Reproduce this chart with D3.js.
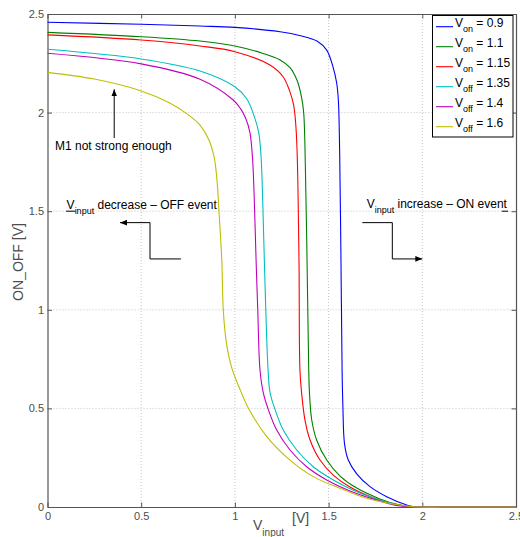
<!DOCTYPE html>
<html>
<head>
<meta charset="utf-8">
<script src="https://cdn.jsdelivr.net/npm/d3@7/dist/d3.min.js"></script>
<style>
  html, body { margin: 0; padding: 0; background: #fff; }
  svg { display: block; font-family: "Liberation Sans", Arial, sans-serif; }
</style>
</head>
<body>
<svg id="chart" width="520" height="537"></svg>
<script>
// ---------------- data ----------------
const xTicks = [0, 0.5, 1, 1.5, 2, 2.5];
const yTicks = [0, 0.5, 1, 1.5, 2, 2.5];
const xTickLabels = ["0", "0.5", "1", "1.5", "2", "2.5"];
const yTickLabels = ["0", "0.5", "1", "1.5", "2", "2.5"];

const seriesNames = ["on", "on", "on", "off", "off", "off"];
const seriesValues = ["0.9", "1.1", "1.15", "1.35", "1.4", "1.6"];
const seriesColors = ["#0000ff", "#008000", "#ff0000", "#00bfbf", "#bf00bf", "#bfbf00"];

const vOn09 = [[0,2.458],[0.5,2.448],[0.814,2.439],[1.0,2.432],[1.241,2.41],[1.35,2.39],[1.44,2.362],[1.49,2.317],[1.523,2.233],[1.543,2.15],[1.552,2.064],[1.559,1.8],[1.566,1.253],[1.572,0.695],[1.576,0.52],[1.585,0.32],[1.605,0.238],[1.65,0.168],[1.721,0.103],[1.81,0.052],[1.917,0.01],[1.95,0.002],[2.2,0],[2.5,0]];
const vOn11 = [[0,2.407],[0.5,2.385],[0.814,2.363],[1.0,2.338],[1.15,2.3],[1.241,2.267],[1.294,2.228],[1.331,2.165],[1.355,2.081],[1.367,2.0],[1.376,1.729],[1.385,1.253],[1.394,0.695],[1.398,0.578],[1.41,0.441],[1.436,0.34],[1.49,0.238],[1.561,0.157],[1.65,0.096],[1.774,0.041],[1.87,0.012],[1.95,0.002],[2.2,0],[2.5,0]];
const vOn115 = [[0,2.394],[0.5,2.368],[0.814,2.338],[1.0,2.309],[1.187,2.241],[1.257,2.182],[1.292,2.11],[1.313,2.04],[1.324,1.95],[1.332,1.8],[1.342,1.253],[1.347,0.695],[1.356,0.578],[1.374,0.441],[1.401,0.34],[1.454,0.238],[1.525,0.162],[1.614,0.101],[1.739,0.046],[1.845,0.015],[1.95,0.002],[2.2,0],[2.5,0]];
const vOff135 = [[0,2.321],[0.5,2.272],[0.814,2.211],[1.0,2.131],[1.063,2.07],[1.1,1.99],[1.127,1.9],[1.14,1.77],[1.147,1.6],[1.157,1.253],[1.177,0.695],[1.188,0.578],[1.214,0.495],[1.258,0.39],[1.33,0.289],[1.418,0.204],[1.525,0.137],[1.641,0.081],[1.774,0.035],[1.87,0.01],[1.95,0.002],[2.2,0],[2.5,0]];
const vOff14 = [[0,2.301],[0.5,2.247],[0.814,2.169],[0.991,2.064],[1.03,2.02],[1.058,1.97],[1.08,1.9],[1.094,1.77],[1.102,1.6],[1.113,1.253],[1.122,0.999],[1.134,0.695],[1.152,0.577],[1.178,0.495],[1.223,0.39],[1.294,0.289],[1.383,0.204],[1.49,0.137],[1.614,0.081],[1.757,0.035],[1.881,0.005],[1.95,0.001],[2.2,0],[2.5,0]];
const vOff16 = [[0,2.204],[0.25,2.17],[0.5,2.11],[0.65,2.05],[0.75,1.99],[0.814,1.937],[0.862,1.86],[0.89,1.77],[0.905,1.65],[0.915,1.5],[0.93,1.253],[0.938,0.999],[0.955,0.83],[0.985,0.7],[1.03,0.59],[1.072,0.501],[1.17,0.357],[1.294,0.238],[1.418,0.154],[1.561,0.095],[1.703,0.044],[1.844,0.015],[1.917,0.005],[1.95,0.001],[2.2,0],[2.5,0]];
const allSeries = [vOn09, vOn11, vOn115, vOff135, vOff14, vOff16];

// ---------------- layout ----------------
const svg = d3.select("#chart");
const L = 47.5, R = 516, T = 14, B = 507;
const x = d3.scaleLinear().domain([0, 2.5]).range([L, R]);
const y = d3.scaleLinear().domain([0, 2.5]).range([B, T]);
const axisColor = "#555";

// grid
const grid = svg.append("g");
grid.selectAll(".gx").data(xTicks.slice(1, -1)).join("line")
  .attr("x1", d => x(d)).attr("x2", d => x(d)).attr("y1", T).attr("y2", B)
  .attr("stroke", "#c4c4c4").attr("stroke-width", 1).attr("stroke-dasharray", "1,2");
grid.selectAll(".gy").data(yTicks.slice(1, -1)).join("line")
  .attr("x1", L).attr("x2", R).attr("y1", d => y(d)).attr("y2", d => y(d))
  .attr("stroke", "#c4c4c4").attr("stroke-width", 1).attr("stroke-dasharray", "1,2");

// axes
function styleAxis(g) {
  g.select(".domain").attr("stroke", axisColor).attr("stroke-width", 1.2);
  g.selectAll(".tick line").attr("stroke", axisColor);
  g.selectAll(".tick text").attr("fill", "#4d4d4d").attr("font-size", 11)
    .attr("font-family", "Liberation Sans, Arial, sans-serif");
}
svg.append("g").attr("transform", `translate(0,${B})`)
  .call(d3.axisBottom(x).tickValues(xTicks).tickFormat((d, i) => xTickLabels[i])
    .tickSizeInner(-4.5).tickSizeOuter(0).tickPadding(5))
  .call(styleAxis);
svg.append("g").attr("transform", `translate(${L},0)`)
  .call(d3.axisLeft(y).tickValues(yTicks).tickFormat((d, i) => yTickLabels[i])
    .tickSizeInner(-4.5).tickSizeOuter(0).tickPadding(3.5))
  .call(styleAxis);
svg.append("g").attr("transform", `translate(0,${T})`)
  .call(d3.axisTop(x).tickValues(xTicks).tickFormat("").tickSizeInner(-4.5).tickSizeOuter(0))
  .call(styleAxis);
svg.append("g").attr("transform", `translate(${R},0)`)
  .call(d3.axisRight(y).tickValues(yTicks).tickFormat("").tickSizeInner(-4.5).tickSizeOuter(0))
  .call(styleAxis);

// axis labels
const xl = svg.append("g").attr("fill", "#4d4d4d").attr("font-size", 14);
xl.append("text").attr("x", 253).attr("y", 530).text("V")
  .append("tspan").attr("font-size", 10).attr("dy", 6).text("input");
xl.append("text").attr("x", 292).attr("y", 522.5).text("[V]");
svg.append("text").attr("transform", "translate(22.5,262) rotate(-90)")
  .attr("text-anchor", "middle").attr("font-size", 14).attr("fill", "#4d4d4d").text("ON_OFF [V]");

// curves
const line = d3.line().x(d => x(d[0])).y(d => y(d[1])).curve(d3.curveCatmullRom.alpha(0.5));
svg.append("g").selectAll("path").data(allSeries).join("path")
  .attr("d", line).attr("fill", "none")
  .attr("stroke", (d, i) => seriesColors[i]).attr("stroke-width", 1.1);

// annotations
const defs = svg.append("defs");
defs.append("marker").attr("id", "ah").attr("viewBox", "0 0 10 10")
  .attr("refX", 10).attr("refY", 5).attr("markerWidth", 7).attr("markerHeight", 7)
  .attr("markerUnits", "userSpaceOnUse").attr("orient", "auto")
  .append("path").attr("d", "M0,1 L10,5 L0,9 Z").attr("fill", "#000");

const ann = svg.append("g");
ann.append("line").attr("x1", x(0.356)).attr("x2", x(0.356))
  .attr("y1", y(1.871)).attr("y2", y(2.118))
  .attr("stroke", "#000").attr("stroke-width", 1).attr("marker-end", "url(#ah)");
ann.append("text").attr("x", x(0.04)).attr("y", y(1.81)).attr("font-size", 12)
  .attr("fill", "#000").text("M1 not strong enough");

const offText = ann.append("text").attr("x", x(0.102)).attr("y", y(1.511)).attr("font-size", 12).attr("fill", "#000");
offText.append("tspan").text("V");
offText.append("tspan").attr("font-size", 9).attr("dy", 5).text("input");
offText.append("tspan").attr("dy", -5).text(" decrease \u2013 OFF event");
ann.append("line").attr("x1", x(0.099)).attr("x2", x(0.148)).attr("y1", y(1.5)).attr("y2", y(1.5))
  .attr("stroke", "#000").attr("stroke-width", 1);

const onText = ann.append("text").attr("x", x(1.703)).attr("y", y(1.516)).attr("font-size", 12).attr("fill", "#000");
onText.append("tspan").text("V");
onText.append("tspan").attr("font-size", 9).attr("dy", 5).text("input");
onText.append("tspan").attr("dy", -5).text(" increase \u2013 ON event");
ann.append("line").attr("x1", x(2.424)).attr("x2", x(2.458)).attr("y1", y(1.5)).attr("y2", y(1.5))
  .attr("stroke", "#000").attr("stroke-width", 1);

const stepLine = d3.line().x(d => x(d[0])).y(d => y(d[1]));
ann.append("path").attr("d", stepLine([[0.712,1.258],[0.547,1.258],[0.547,1.442],[0.387,1.442]]))
  .attr("fill", "none").attr("stroke", "#000").attr("stroke-width", 1).attr("marker-end", "url(#ah)");
ann.append("path").attr("d", stepLine([[1.68,1.442],[1.84,1.442],[1.84,1.258],[2.0,1.258]]))
  .attr("fill", "none").attr("stroke", "#000").attr("stroke-width", 1).attr("marker-end", "url(#ah)");

// legend
const lg = svg.append("g");
lg.append("rect").attr("x", 432.5).attr("y", 15.5).attr("width", 80.5).attr("height", 121.5)
  .attr("fill", "#fff").attr("stroke", "#000").attr("stroke-width", 1);
seriesValues.forEach((v, i) => {
  const yy = 26.7 + i * 20;
  lg.append("line").attr("x1", 436).attr("x2", 453).attr("y1", yy).attr("y2", yy)
    .attr("stroke", seriesColors[i]).attr("stroke-width", 1.1);
  const t = lg.append("text").attr("x", 455).attr("y", yy).attr("font-size", 12).attr("fill", "#000");
  t.append("tspan").text("V");
  t.append("tspan").attr("font-size", 9).attr("dy", 5).text(seriesNames[i]);
  t.append("tspan").attr("dy", -5).text(" = " + v);
});
</script>
</body>
</html>
